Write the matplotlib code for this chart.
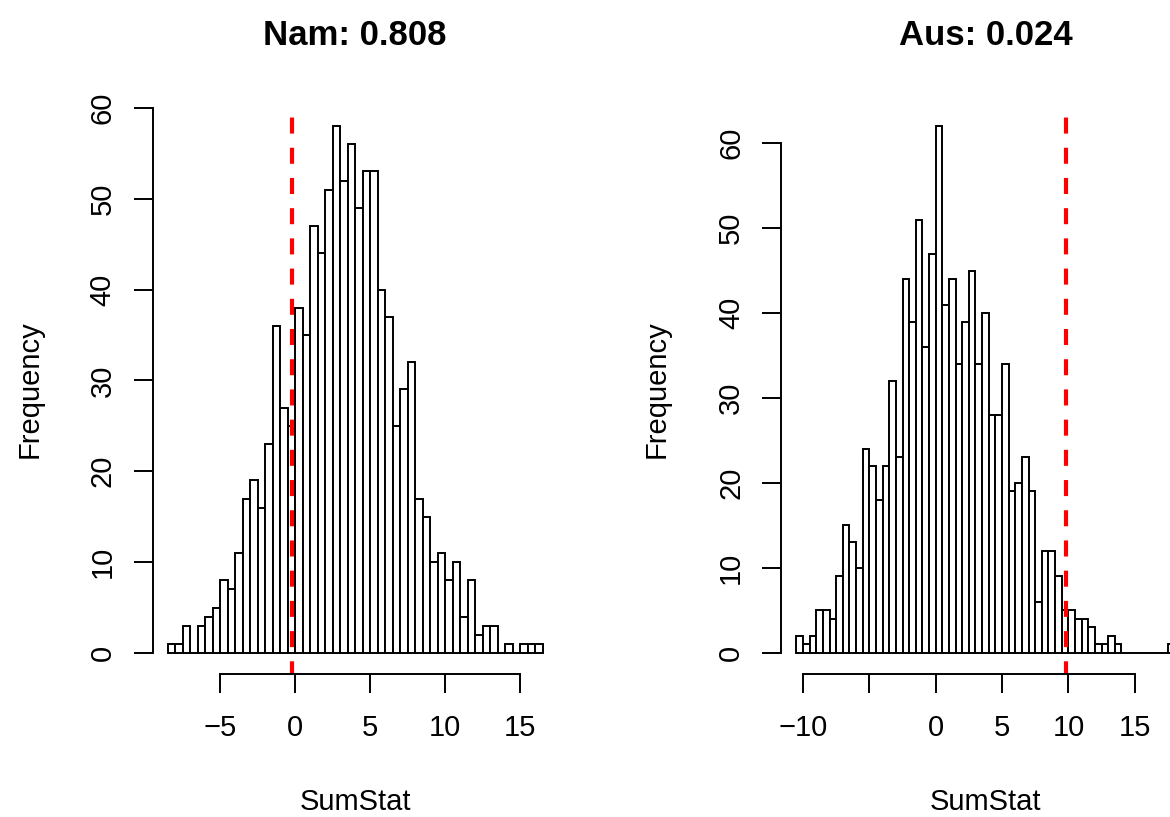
import numpy as np
import matplotlib
matplotlib.use("Agg")
import matplotlib.pyplot as plt

plt.rcParams['font.family'] = ['Liberation Sans', 'DejaVu Sans']

# histogram counts, bins of width 0.5
bin_w = 0.5

nam_title = "Nam: 0.808"
nam_start = -8.5
nam_counts = [1, 1, 3, 0, 3, 4, 5, 8, 7, 11, 17, 19, 16, 23, 36, 27, 25, 38, 35, 47,
              44, 51, 58, 52, 56, 49, 53, 53, 40, 37, 25, 29, 32, 17, 15, 10, 11, 8, 10, 4,
              8, 2, 3, 3, 0, 1, 0, 1, 1, 1]
nam_obs = -0.22
nam_xticks = [-5, 0, 5, 10, 15]
nam_xlabels = ["\u22125", "0", "5", "10", "15"]

aus_title = "Aus: 0.024"
aus_start = -10.5
aus_counts = [2, 1, 2, 5, 5, 4, 9, 15, 13, 10, 24, 22, 18, 22, 32, 23, 44, 39, 51, 36,
              47, 62, 41, 44, 34, 39, 45, 34, 40, 28, 28, 34, 19, 20, 23, 19, 6, 12, 12, 9,
              5, 5, 4, 4, 3, 1, 1, 2, 1, 0, 0, 0, 0, 0, 0, 0, 1]
aus_obs = 9.8
aus_xticks = [-10, -5, 0, 5, 10, 15]
aus_xlabels = ["\u221210", "", "0", "5", "10", "15"]

yticks = [0, 10, 20, 30, 40, 50, 60]

W, H = 1170, 817
fig = plt.figure(figsize=(W / 100, H / 100), dpi=100)


def panel(rect, start, counts, obs, title, xticks, xlabels):
    ax = fig.add_axes(rect)
    counts = np.array(counts)
    edges = start + bin_w * np.arange(len(counts) + 1)
    ax.bar(edges[:-1], counts, width=bin_w, align='edge', facecolor='white',
           edgecolor='black', linewidth=1.4)
    # R style 4% padding around the data range
    xr = edges[-1] - edges[0]
    ax.set_xlim(edges[0] - 0.04 * xr, edges[-1] + 0.04 * xr)
    ymax = counts.max()
    ax.set_ylim(-0.04 * ymax, 1.04 * ymax)
    ax.axvline(obs, color='red', lw=3, ls=(0.8, (3.85, 3.4)))

    for s in ['top', 'right']:
        ax.spines[s].set_visible(False)
    for s in ['left', 'bottom']:
        ax.spines[s].set_linewidth(1.4)
    ax.spines['bottom'].set_bounds(xticks[0], xticks[-1])
    ax.spines['left'].set_bounds(yticks[0], yticks[-1])

    ax.set_xticks(xticks, xlabels)
    ax.set_yticks(yticks, [str(v) for v in yticks])
    ax.tick_params(axis='both', direction='out', length=13.5, width=1.4,
                   labelsize=21)
    ax.tick_params(axis='x', pad=15)
    ax.tick_params(axis='y', pad=12.5, labelrotation=90)
    for lab in ax.get_yticklabels():
        lab.set_va('center')

    ax.set_xlabel("SumStat", fontsize=21)
    ax.xaxis.set_label_coords(0.5, -0.225)
    ax.xaxis.label.set_va('center')
    ax.set_ylabel("Frequency", fontsize=21)
    ax.yaxis.set_label_coords(-0.304, 0.5)
    ax.yaxis.label.set_va('center')
    ax.set_title(title, fontsize=25, fontweight='bold', y=1.123, pad=0, va='center')
    return ax


bottom = (H - 674) / H
height = (674 - 105) / H
panel([152.5 / W, bottom, 405 / W, height], nam_start, nam_counts, nam_obs,
      nam_title, nam_xticks, nam_xlabels)
panel([781.2 / W, bottom, 408.5 / W, height], aus_start, aus_counts, aus_obs,
      aus_title, aus_xticks, aus_xlabels)

fig.savefig("out.png", dpi=100)
